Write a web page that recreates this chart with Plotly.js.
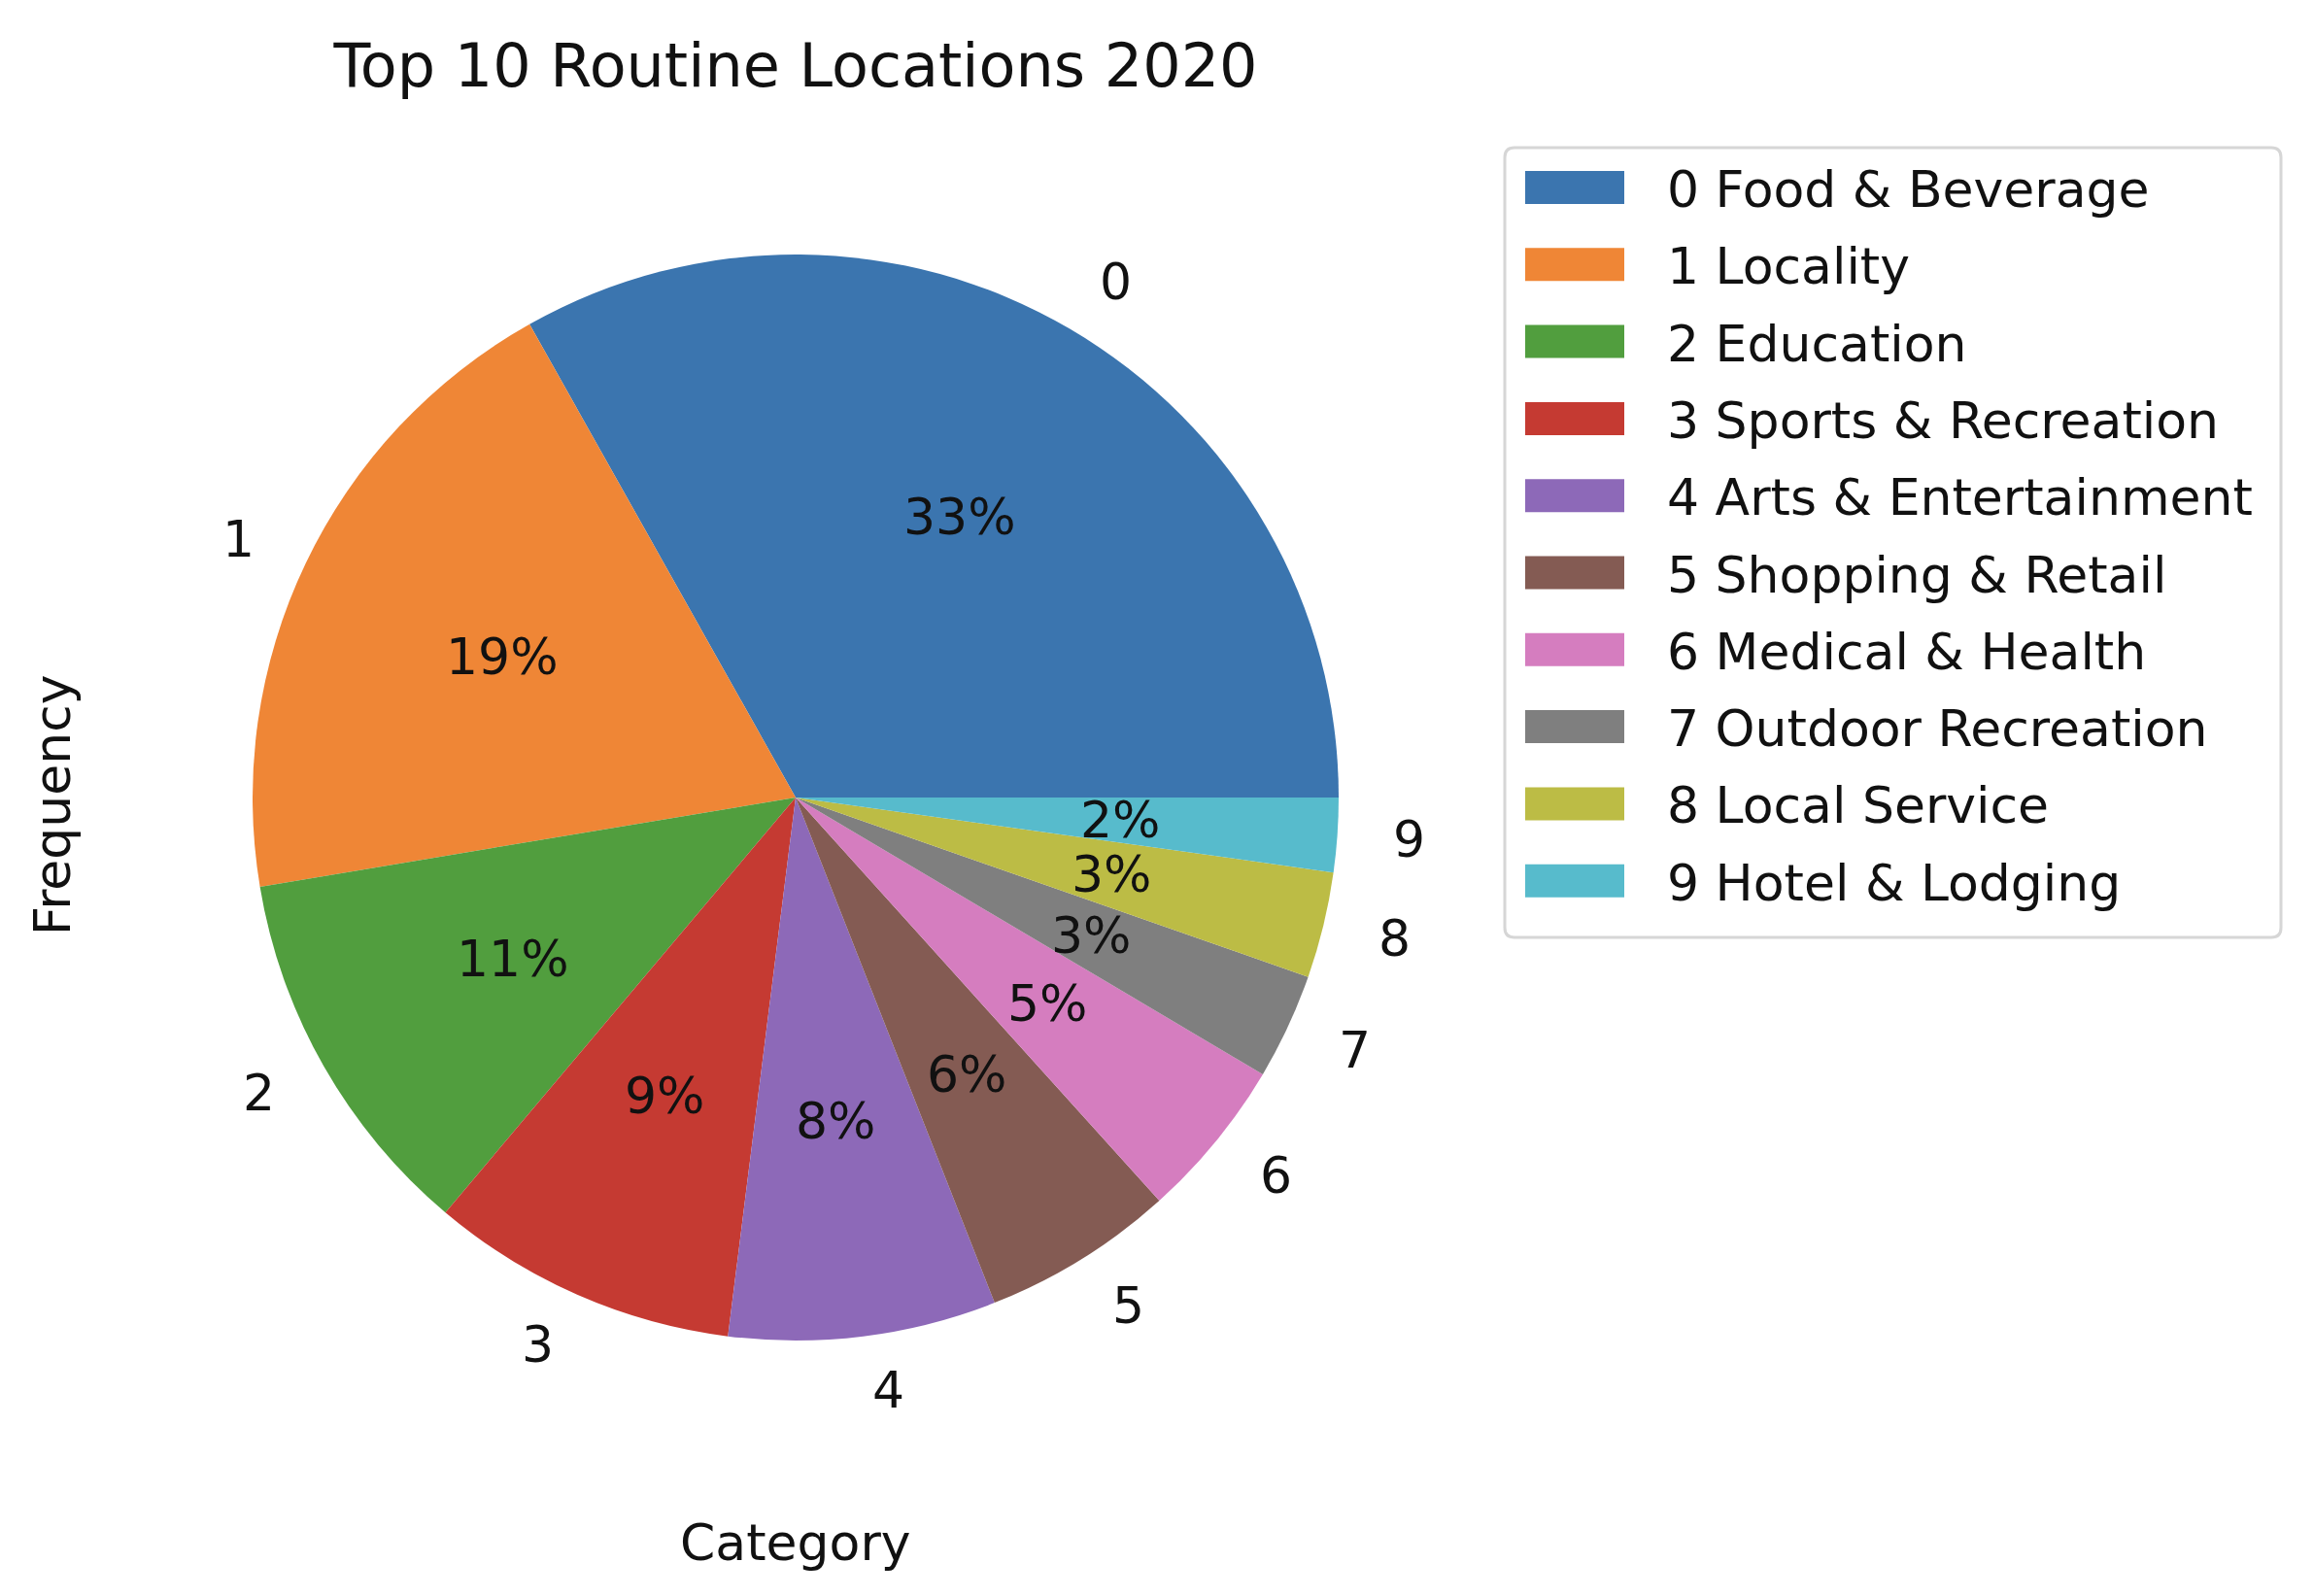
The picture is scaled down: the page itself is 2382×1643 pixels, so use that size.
<!DOCTYPE html>
<html>
<head>
<meta charset="utf-8">
<script src="https://cdn.plot.ly/plotly-3.0.1.min.js"></script>
<style>
  body { margin: 0; background: #fff; }
  #Graph { width: 2382px; height: 1643px; }
</style>
</head>
<body>
<div id="Graph"></div>
<script>
// data
var sliceIds = ['0', '1', '2', '3', '4', '5', '6', '7', '8', '9'];
var categories = ['Food & Beverage', 'Locality', 'Education', 'Sports & Recreation',
  'Arts & Entertainment', 'Shopping & Retail', 'Medical & Health',
  'Outdoor Recreation', 'Local Service', 'Hotel & Lodging'];
var frequency = [662, 389, 224, 183, 159, 114, 96, 63, 63, 44];
var sliceColors = ['#3b75af', '#ef8636', '#519e3e', '#c53a32', '#8d69b8',
  '#845b53', '#d57dbf', '#7f7f7f', '#bcbc45', '#57bbcc'];

// page geometry (pixels)
var W = 2382, H = 1643;
var CX = 819, CY = 821, R = 559;
var FONT = 'DejaVu Sans';

function px(x) { return x / W; }
function py(y) { return 1 - y / H; }

var total = 0;
for (var i = 0; i < frequency.length; i++) total += frequency[i];

// plotly puts the first slice clockwise of 'rotation' when going counterclockwise,
// so shift it by the first slice to start at 3 o'clock like matplotlib
var trace = {
  type: 'pie',
  values: frequency,
  labels: sliceIds,
  sort: false,
  direction: 'counterclockwise',
  rotation: 90 - 360 * frequency[0] / total,
  textinfo: 'none',
  hoverinfo: 'label+value+percent',
  marker: { colors: sliceColors, line: { width: 0 } },
  domain: { x: [px(CX - R), px(CX + R)], y: [py(CY + R), py(CY - R)] },
  showlegend: false
};

var annotations = [];
var shapes = [];

// slice labels (1.1 R) and percentages (0.6 R), like matplotlib autopct
var cum = 0;
for (var i = 0; i < frequency.length; i++) {
  var mid = (cum + frequency[i] / 2) / total * 2 * Math.PI;
  cum += frequency[i];
  var c = Math.cos(mid), s = Math.sin(mid);
  annotations.push({
    xref: 'paper', yref: 'paper',
    x: px(CX + 0.6 * R * c), y: py(CY - 0.6 * R * s),
    xanchor: 'center', yanchor: 'middle',
    text: Math.round(frequency[i] / total * 100) + '%',
    showarrow: false,
    font: { family: FONT, size: 52, color: '#111' }
  });
  annotations.push({
    xref: 'paper', yref: 'paper',
    x: px(CX + 1.1 * R * c), y: py(CY - 1.1 * R * s),
    xanchor: c >= 0 ? 'left' : 'right', yanchor: 'middle',
    text: sliceIds[i],
    showarrow: false,
    font: { family: FONT, size: 52, color: '#111' }
  });
} //end for

// axis labels
annotations.push({
  xref: 'paper', yref: 'paper', x: px(54), y: py(CY + 8),
  text: 'Frequency', textangle: -90, showarrow: false,
  xanchor: 'center', yanchor: 'middle',
  font: { family: FONT, size: 52, color: '#111' }
});
annotations.push({
  xref: 'paper', yref: 'paper', x: px(CX), y: py(1588),
  text: 'Category', showarrow: false,
  xanchor: 'center', yanchor: 'middle',
  font: { family: FONT, size: 52, color: '#111' }
});

// legend box, matplotlib style
var L = 1549, T = 152, Rt = 2348, B = 965, rc = 10;
shapes.push({
  type: 'path', xref: 'paper', yref: 'paper',
  path: 'M' + px(L + rc) + ',' + py(T) +
    ' L' + px(Rt - rc) + ',' + py(T) +
    ' Q' + px(Rt) + ',' + py(T) + ' ' + px(Rt) + ',' + py(T + rc) +
    ' L' + px(Rt) + ',' + py(B - rc) +
    ' Q' + px(Rt) + ',' + py(B) + ' ' + px(Rt - rc) + ',' + py(B) +
    ' L' + px(L + rc) + ',' + py(B) +
    ' Q' + px(L) + ',' + py(B) + ' ' + px(L) + ',' + py(B - rc) +
    ' L' + px(L) + ',' + py(T + rc) +
    ' Q' + px(L) + ',' + py(T) + ' ' + px(L + rc) + ',' + py(T) + ' Z',
  line: { color: '#d6d6d6', width: 3 },
  fillcolor: 'rgba(255,255,255,0.8)'
});

var rowTop = 193, rowGap = 79.3;
for (var i = 0; i < categories.length; i++) {
  var yc = rowTop + i * rowGap;
  shapes.push({
    type: 'rect', xref: 'paper', yref: 'paper',
    x0: px(1570), x1: px(1672), y0: py(yc - 17), y1: py(yc + 17),
    fillcolor: sliceColors[i], line: { width: 0 }
  });
  annotations.push({
    xref: 'paper', yref: 'paper', x: px(1714), y: py(yc + 2),
    xanchor: 'left', yanchor: 'middle',
    text: sliceIds[i] + ' ' + categories[i], showarrow: false,
    font: { family: FONT, size: 52, color: '#111' }
  });
} //end for

var layout = {
  width: W, height: H,
  margin: { l: 0, r: 0, t: 0, b: 0 },
  paper_bgcolor: 'white',
  title: {
    text: 'Top 10 Routine Locations 2020',
    font: { family: FONT, size: 62, color: '#111' },
    xref: 'paper', yref: 'paper',
    x: px(CX), xanchor: 'center',
    y: py(67), yanchor: 'middle'
  },
  showlegend: false,
  annotations: annotations,
  shapes: shapes
};

Plotly.newPlot('Graph', [trace], layout, { staticPlot: true });
</script>
</body>
</html>
